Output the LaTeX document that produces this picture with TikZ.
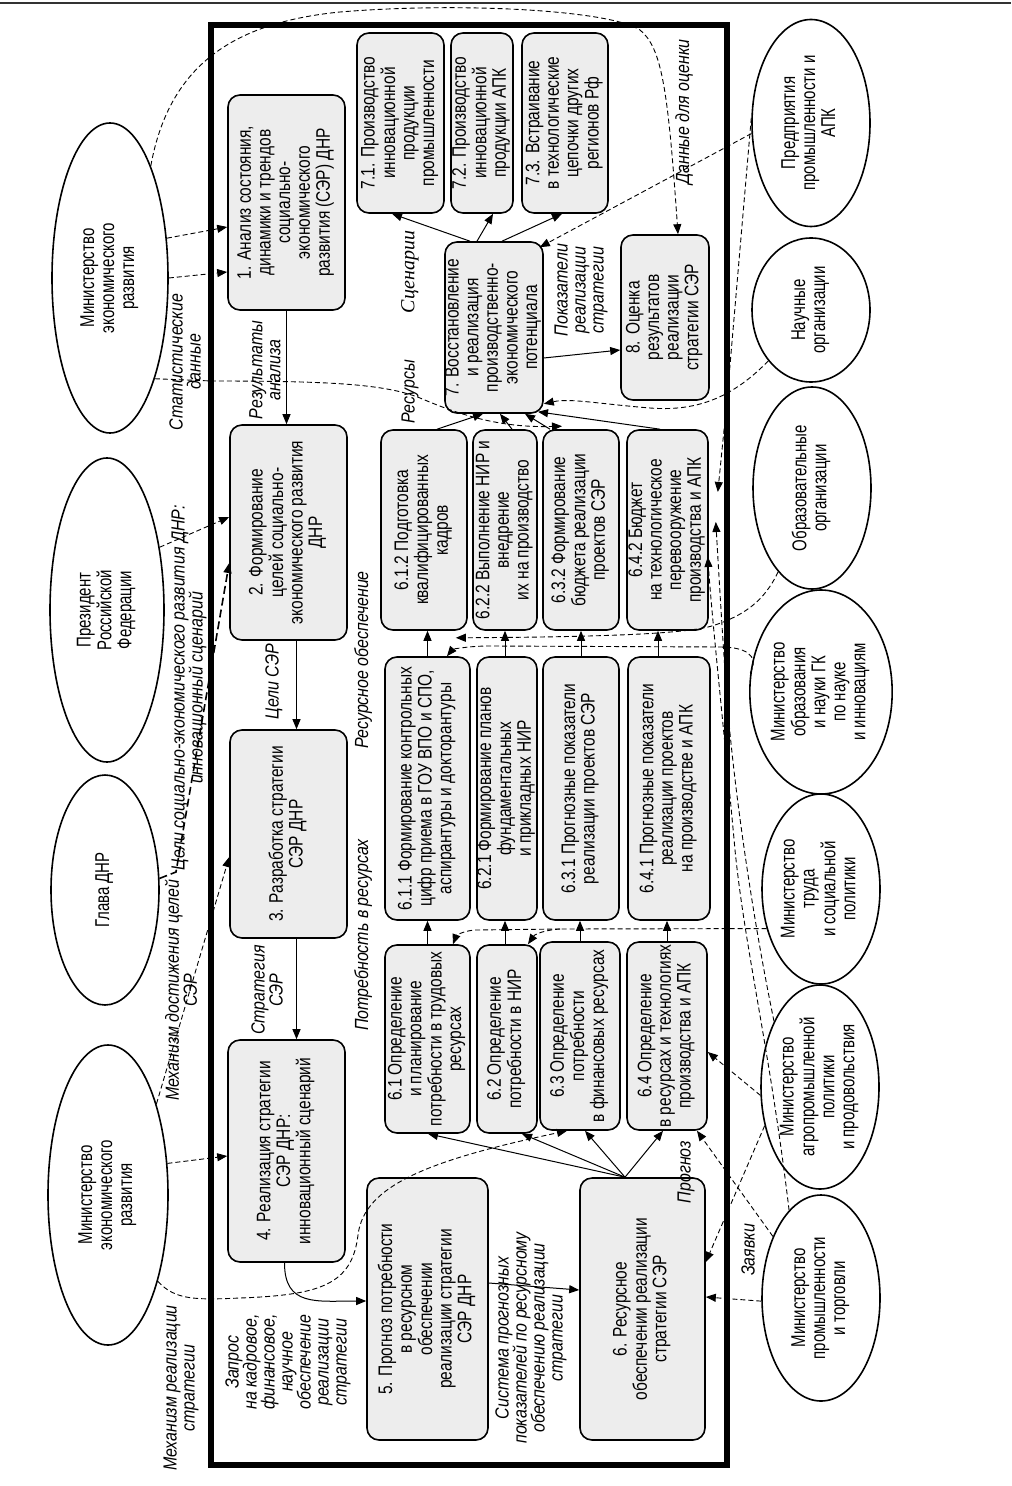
\documentclass[tikz,border=0pt]{standalone}
\usepackage{fontspec}
\usepackage{graphicx}
\setmainfont{Liberation Sans}
\newfontfamily\bxf[FakeStretch=0.79]{Liberation Sans}
\newfontfamily\elf[FakeStretch=0.75]{Liberation Sans}
\newfontfamily\lbf[FakeStretch=0.84]{Liberation Sans}
\newfontfamily\scf{Liberation Serif}
\usetikzlibrary{arrows.meta,shapes.geometric,calc}
\newcommand\vt[1]{\rotatebox{90}{\begin{tabular}{@{}c@{}}#1\end{tabular}}}
\begin{document}
\begin{tikzpicture}[x=0.5pt,y=-0.5pt,
  sz/.style 2 args={minimum width=#1*0.5pt, minimum height=#2*0.5pt},
  box/.style={draw, line width=0.8pt, rounded corners=6pt, fill=black!7, inner sep=0pt, font=\bxf\fontsize{9.8}{9.8}\selectfont},
  ell/.style={draw, ellipse, line width=0.8pt, inner sep=0pt, font=\elf\fontsize{10}{10}\selectfont},
  lbl/.style={rotate=90, align=center, inner sep=0pt, font=\lbf\itshape\fontsize{9.5}{9}\selectfont},
  arr/.style={-{Triangle[length=5pt,width=4pt]}, line width=0.5pt},
  darr/.style={-{Triangle[length=5pt,width=4pt]}, line width=0.45pt, dash pattern=on 2.5pt off 1.5pt},
  dln/.style={line width=0.45pt, dash pattern=on 2.5pt off 1.5pt},
]
\fill[white] (0,0) rectangle (1011,1486);
\useasboundingbox (0,0) rectangle (1011,1486);
\draw[line width=1.2pt, black!80] (0,3) -- (1011,3);
\draw[line width=2.6pt] (211,25) rectangle (727,1465);

% ---------- main boxes
\node[box, sz={117}{215}] (b1) at (286.5,202.5) {\vt{1. Анализ состояния,\\динамики и трендов\\социально-\\экономического\\развития (СЭР) ДНР}};
\node[box, sz={117}{215}] (b2) at (288.5,532.5) {\vt{2. Формирование\\целей социально-\\экономического развития\\ДНР}};
\node[box, sz={117}{208}] (b3) at (288.5,834) {\vt{3. Разработка стратегии\\СЭР ДНР}};
\node[box, sz={117}{222}] (b4) at (286.5,1151) {\vt{4. Реализация стратегии\\СЭР ДНР:\\инновационный сценарий}};
\node[box, sz={121}{262}] (b5) at (427.5,1309) {\vt{5. Прогноз потребности\\в ресурсном\\обеспечении\\реализации стратегии\\СЭР ДНР}};
\node[box, sz={125}{262}] (b6) at (642.5,1309) {\vt{6. Ресурсное\\обеспечении реализации\\стратегии СЭР}};
\node[box, sz={87}{180}] (b71) at (400.5,123) {\vt{7.1. Производство\\инновационной\\продукции\\промышленности}};
\node[box, sz={62}{180}] (b72) at (482,123) {\vt{7.2. Производство\\инновационной\\продукции АПК}};
\node[box, sz={86}{180}] (b73) at (565,123) {\vt{7.3. Встраивание\\в технологические\\цепочки других\\регионов Рф}};
\node[box, sz={98}{171}] (b7) at (494,327.5) {\vt{7. Восстановление\\и реализация\\производственно-\\экономического\\потенциала}};
\node[box, sz={88}{165}] (b8) at (665,317.5) {\vt{8. Оценка\\результатов\\реализации\\стратегии СЭР}};
\node[box, sz={86}{200}] (b612) at (424,530) {\vt{6.1.2 Подготовка\\квалифицированных\\кадров}};
\node[box, sz={64}{200}] (b622) at (505,530) {\vt{6.2.2 Выполнение НИР и\\внедрение\\их на производство}};
\node[box, sz={76}{200}] (b632) at (581,530) {\vt{6.3.2 Формирование\\бюджета реализации\\проектов СЭР}};
\node[box, sz={81}{200}] (b642) at (667.5,530) {\vt{6.4.2 Бюджет\\на технологическое\\перевооружение\\производства и АПК}};
\node[box, sz={85}{263}] (b611) at (427.5,788.5) {\vt{6.1.1 Формирование контрольных\\цифр приема в ГОУ ВПО и СПО,\\аспирантуры и докторантуры}};
\node[box, sz={60}{263}] (b621) at (507,788.5) {\vt{6.2.1 Формирование планов\\фундаментальных\\и прикладных НИР}};
\node[box, sz={76}{263}] (b631) at (581,788.5) {\vt{6.3.1 Прогнозные показатели\\реализации проектов СЭР}};
\node[box, sz={82}{263}] (b641) at (669,788.5) {\vt{6.4.1 Прогнозные показатели\\реализации проектов\\на производстве и АПК}};
\node[box, sz={85}{188}] (b61) at (427.5,1039) {\vt{6.1 Определение\\и планирование\\потребности в трудовых\\ресурсах}};
\node[box, sz={60}{188}] (b62) at (507,1039) {\vt{6.2 Определение\\потребности в НИР}};
\node[box, sz={80}{188}] (b63) at (580,1036) {\vt{6.3 Определение\\потребности\\в финансовых ресурсах}};
\node[box, sz={80}{188}] (b64) at (667,1036) {\vt{6.4 Определение\\в ресурсах и технологиях\\производства и АПК}};

% ---------- ellipses
\node[ell, sz={116}{310}] (e1) at (110,278) {\vt{Министерство\\экономического\\развития}};
\node[ell, sz={114}{304}] (e2) at (107,610) {\vt{Президент\\Российской\\Федерации}};
\node[ell, sz={108}{230}] (e3) at (105,890) {\vt{Глава ДНР}};
\node[ell, sz={120}{300}] (e4) at (108,1195) {\vt{Министерство\\экономического\\развития}};
\node[ell, sz={118}{207}] (r1) at (811,123) {\vt{Предприятия\\промышленности и\\АПК}};
\node[ell, sz={118}{144}] (r2) at (811,310) {\vt{Научные\\организации}};
\node[ell, sz={118}{202}] (r3) at (812,488) {\vt{Образовательные\\организации}};
\node[ell, sz={118}{204}] (r4) at (821,692) {\vt{Министерство\\образования\\и науки ГК\\по науке\\и инновациям}};
\node[ell, sz={118}{190}] (r5) at (821,889) {\vt{Министерство\\труда\\и социальной\\политики}};
\node[ell, sz={118}{204}] (r6) at (820,1087) {\vt{Министерство\\агропромышленной\\политики\\и продовольствия}};
\node[ell, sz={118}{206}] (r7) at (821,1298) {\vt{Министерство\\промышленности\\и торговли}};

% ---------- labels
\node[lbl] (lstat) at (185,362) {Статистические\\данные};
\node[lbl] (lgoal) at (189,688) {Цели социально-экономического развития ДНР:\\инновационный сценарий};
\node[lbl] (lmech1) at (181,990) {Механизм достижения целей\\СЭР};
\node[lbl] (lmech2) at (181,1388) {Механизм реализации\\стратегии};
\node[lbl] (lres) at (265,370) {Результаты\\анализа};
\node[lbl] (lgs) at (274,682) {Цели СЭР};
\node[lbl] (lstr) at (267,990) {Стратегия\\СЭР};
\node[lbl] (lreq) at (288,1362) {Запрос\\на кадровое,\\финансовое,\\научное\\обеспечение\\реализации\\стратегии};
\node[lbl] (lsys) at (531,1338) {Система прогнозных\\показателей по ресурсному\\обеспечению реализации\\стратегии};
\node[lbl, font=\scf\itshape\fontsize{10}{10}\selectfont] (lscen) at (410,272) {Сценарии};
\node[lbl] (lresu) at (410,392) {Ресурсы};
\node[lbl] (lpok) at (581,290) {Показатели\\реализации\\стратегии};
\node[lbl] (ldata) at (684,112) {Данные для оценки};
\node[lbl] (lresob) at (363,660) {Ресурсное обеспечение};
\node[lbl] (lneed) at (363,935) {Потребность в ресурсах};
\node[lbl] (lprog) at (686,1172) {Прогноз};
\node[lbl] (lzay) at (748,1250) {Заявки};

% ---------- solid connectors
\draw[arr] (b1.south) -- (b1.south |- b2.north);
\draw[arr] ([xshift=4pt]b2.south) -- ([xshift=4pt]b2.south |- b3.north);
\draw[arr] ([xshift=4pt]b3.south) -- ([xshift=4pt]b3.south |- b4.north);
\draw[arr] ([xshift=-1pt]b4.south) .. controls +(0,-22pt) and +(-25pt,0) .. ([yshift=4pt]b5.west);
\draw[arr] ([yshift=13pt]b5.east) -- ([yshift=9.5pt]b6.west);
\draw[arr] ([xshift=-8.75pt]b6.north) -- ([xshift=0.25pt]b61.south);
\draw[arr] ([xshift=-8.75pt]b6.north) -- ([xshift=7.5pt]b62.south);
\draw[arr] ([xshift=-8.75pt]b6.north) -- ([xshift=2.5pt]b63.south);
\draw[arr] ([xshift=-8.75pt]b6.north) -- ([xshift=-2pt]b64.south);
\draw[arr] (b61.north) -- (b61.north |- b611.south);
\draw[arr] ([xshift=-1pt]b62.north) -- ([xshift=-1pt]b62.north |- b621.south);
\draw[arr] (b63.north) -- (b63.north |- b631.south);
\draw[arr] (b64.north) -- (b64.north |- b641.south);
\draw[arr] (b611.north) -- (b611.north |- b612.south);
\draw[arr] ([xshift=-1pt]b621.north) -- ([xshift=-1pt]b621.north |- b622.south);
\draw[arr] (b631.north) -- (b631.north |- b632.south);
\draw[arr] ([xshift=-5.5pt]b641.north) -- ([xshift=-5.5pt]b641.north |- b642.south);
\draw[arr] ([xshift=6.5pt]b612.north) -- ([xshift=-5.5pt]b7.south);
\draw[arr] ([xshift=3.5pt]b622.north) -- ([xshift=3pt]b7.south);
\draw[arr] ([xshift=-15.5pt]b632.north) -- ([xshift=15.5pt]b7.south);
\draw[arr] ([xshift=-3.75pt]b642.north) -- ([xshift=22pt,yshift=1pt]b7.south);
\draw[arr] ([xshift=-12pt]b7.north) -- ([xshift=-4.25pt]b71.south);
\draw[arr] ([xshift=-8.5pt]b7.north) -- ([xshift=5.5pt]b72.south);
\draw[arr] ([xshift=4pt]b7.north) -- ([xshift=-1.5pt]b73.south);
\draw[arr] ([yshift=-15.25pt]b7.east) -- ([yshift=-16.25pt]b8.west);

% ---------- dashed connectors, left
\draw[darr] (e1.70) .. controls (170,60) and (240,22) .. (340,12) .. controls (460,2) and (610,10) .. (640,30) .. controls (662,48) and (668,90) .. ([xshift=6.5pt]b8.north);
\draw[darr] (e1.35) -- ([yshift=-12.25pt]b1.west);
\draw[darr] (e1.east) -- ([yshift=-34.75pt]b1.west);
\draw[darr] (e1.-66) -- (212,381) .. controls (330,381) and (385,384) .. (420,398) .. controls (460,415) and (500,428) .. ([xshift=-9.5pt,yshift=1.5pt]b632.north);
\draw[darr] (e2.50) -- ([yshift=7.75pt]b2.west);
\draw[darr, line width=0.8pt, dash pattern=on 4pt off 2pt] (e3.12) -- (176,872) -- ([yshift=-15.25pt]b2.west);
\draw[darr] (e4.62) -- ([yshift=-11.5pt]b3.west);
\draw[darr] (e4.28) -- ([yshift=-2.5pt]b4.west);
\draw[darr] (e4.-60) .. controls (175,1300) and (195,1300) .. (240,1298) .. controls (320,1295) and (352,1285) .. (358,1235) .. controls (364,1185) and (430,1160) .. ([xshift=-6.5pt]b63.south);

% ---------- dashed connectors, right
\draw[darr] (r1.190) -- ([xshift=-2pt,yshift=-3pt]b7.north east);
\draw[darr] (r1.175) -- (727,400) -- ([xshift=4.5pt,yshift=19pt]b642.east);
\draw[darr] (r2.230) .. controls (735,395) and (700,412) .. (650,408) .. controls (600,404) and (570,398) .. ([yshift=5pt]b7.south east);
\draw[darr] (r3.248) .. controls (765,600) and (745,615) .. (715,625) .. controls (690,634) and (600,637) .. ([xshift=-6pt,yshift=-3.5pt]b612.south east);
\draw[darr] (r4.165) .. controls (760,655) and (745,647) .. (720,647) -- (490,646) .. controls (465,646) and (452,650) .. ([xshift=9.75pt]b611.north);
\coordinate (r5j) at (560,929);
\draw[dln] (r5.216) -- (r5j);
\draw[darr] (r5j) -- (475,930) .. controls (462,931) and (456,936) .. ([xshift=12.75pt]b61.north);
\draw[darr] (r5j) .. controls (545,930) and (535,934) .. ([xshift=10.5pt]b62.north);
\draw[darr] (r6.125) .. controls (755,930) and (735,800) .. (727,700) .. controls (722,630) and (718,560) .. ([xshift=3.5pt,yshift=4pt]b642.east);
\draw[darr] (r7.110) .. controls (770,1050) and (745,950) .. (735,850) .. controls (725,740) and (712,620) .. ([xshift=-0.5pt,yshift=-13.5pt]b642.east);
\draw[darr] (r6.188) -- ([yshift=-8pt]b64.east);
\draw[darr] (r6.215) -- ([yshift=23.5pt]b6.east);
\draw[darr] (r7.183) -- ([yshift=6pt]b6.east);
\draw[darr] (r7.128) -- ([xshift=15pt]b64.south);
\end{tikzpicture}
\end{document}
